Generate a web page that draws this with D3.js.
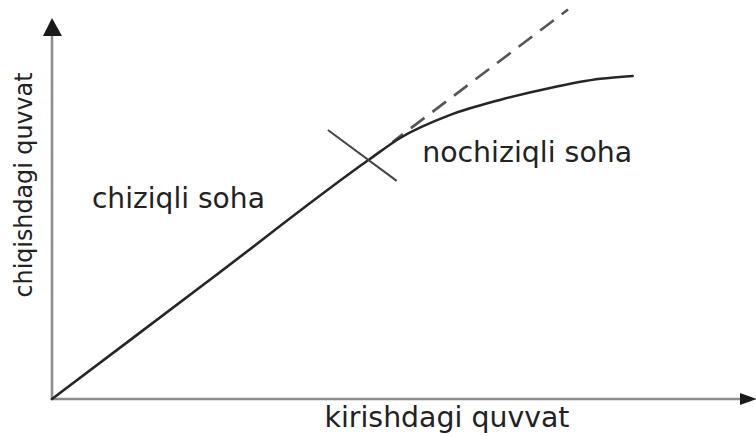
<!DOCTYPE html>
<html>
<head>
<meta charset="utf-8">
<script src="https://cdn.jsdelivr.net/npm/d3@7"></script>
<style>
  html, body { margin: 0; padding: 0; background: #fff; }
  svg { display: block; }
</style>
</head>
<body>
<svg id="chart" width="756" height="436"></svg>
<script>
// ---- data ----
const inputPower  = [0, 23.1, 46.2, 50.6, 57.8, 65.1, 72.4, 79.7, 84.4];
const outputPower = [0, 33.05, 66.1, 71.9, 78.2, 82.4, 85.7, 88.2, 89.0];
const linearExtX  = [49.5, 75.0];
const linearExtY  = [70.8, 107.3];
const crossX      = [40.1, 50.1];
const crossY      = [74.1, 60.1];
const xTitle = "kirishdagi quvvat";
const yTitle = "chiqishdagi quvvat";
const regionLabels = ["chiziqli soha", "nochiziqli soha"];
const regionLabelX = [5.8, 53.8];
const regionLabelY = [52.6, 65.3];

// ---- drawing ----
const svg = d3.select("#chart");
const x = d3.scaleLinear().domain([0, 100]).range([52, 740]);
const y = d3.scaleLinear().domain([0, 100]).range([399, 36]);

const axisColor = "#8c8c8c";
const gx = svg.append("g").attr("transform", `translate(0,${y(0)})`)
  .call(d3.axisBottom(x).tickValues([]).tickSizeOuter(0));
const gy = svg.append("g").attr("transform", `translate(${x(0)},0)`)
  .call(d3.axisLeft(y).tickValues([]).tickSizeOuter(0));
[gx, gy].forEach(g => g.select(".domain").attr("stroke", axisColor).attr("stroke-width", 2.6));
gy.select(".domain").attr("d", `M0,${y(0)+1}V${y(100)}`);
gx.select(".domain").attr("d", `M${x(0)-1},0H${x(100)}`);

// arrowheads
svg.append("path")
  .attr("d", `M${x(0)},${y(100)-18} L${x(0)+10},${y(100)} L${x(0)-9},${y(100)} Z`)
  .attr("fill", "#1a1a1a");
svg.append("path")
  .attr("d", `M${x(100)+17},${y(0)} L${x(100)},${y(0)-6} L${x(100)},${y(0)+6} Z`)
  .attr("fill", "#1a1a1a");

// dashed linear extension
const lin = d3.line().x(d => x(d[0])).y(d => y(d[1]));
svg.append("path")
  .datum(d3.zip(linearExtX, linearExtY))
  .attr("d", lin)
  .attr("fill", "none")
  .attr("stroke", "#555")
  .attr("stroke-width", 2.6)
  .attr("stroke-dasharray", "17,10")
  .attr("stroke-dashoffset", 4);

// main transfer curve
const curve = d3.line().x(d => x(d[0])).y(d => y(d[1])).curve(d3.curveMonotoneX);
svg.append("path")
  .datum(d3.zip(inputPower, outputPower))
  .attr("d", curve)
  .attr("fill", "none")
  .attr("stroke", "#262626")
  .attr("stroke-width", 2.6)
  .attr("stroke-linecap", "round");

// cross marker
svg.append("path")
  .datum(d3.zip(crossX, crossY))
  .attr("d", lin)
  .attr("fill", "none")
  .attr("stroke", "#444")
  .attr("stroke-width", 2);

// region labels
const labelWidths = [173, 210];
svg.selectAll("text.region")
  .data(regionLabels)
  .join("text")
  .attr("class", "region")
  .attr("x", (d, i) => x(regionLabelX[i]))
  .attr("y", (d, i) => y(regionLabelY[i]))
  .attr("textLength", (d, i) => labelWidths[i])
  .attr("lengthAdjust", "spacingAndGlyphs")
  .attr("font-family", "DejaVu Sans, Verdana, sans-serif")
  .attr("font-size", 28)
  .attr("fill", "#222")
  .text(d => d);

// axis titles
svg.append("text")
  .attr("x", 447).attr("y", 427)
  .attr("text-anchor", "middle")
  .attr("textLength", 245)
  .attr("lengthAdjust", "spacingAndGlyphs")
  .attr("font-family", "DejaVu Sans, Verdana, sans-serif")
  .attr("font-size", 28)
  .attr("fill", "#222")
  .text(xTitle);

svg.append("text")
  .attr("transform", "translate(32,185) rotate(-90)")
  .attr("text-anchor", "middle")
  .attr("textLength", 225)
  .attr("lengthAdjust", "spacingAndGlyphs")
  .attr("font-family", "DejaVu Sans, Verdana, sans-serif")
  .attr("font-size", 25)
  .attr("fill", "#222")
  .text(yTitle);
</script>
</body>
</html>
